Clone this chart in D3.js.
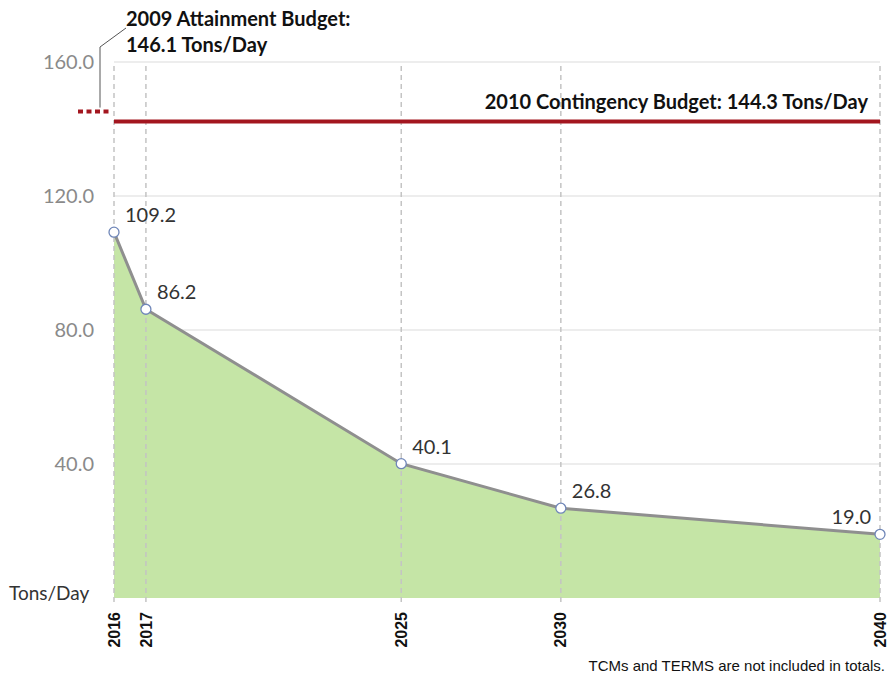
<!DOCTYPE html>
<html><head><meta charset="utf-8">
<script src="https://cdn.jsdelivr.net/npm/d3@7"></script>
<style>body{margin:0;background:#fff}svg{display:block}</style>
</head><body>
<svg id="c" width="891" height="681"></svg>
<script>
const years = [2016, 2017, 2025, 2030, 2040];
const values = [109.2, 86.2, 40.1, 26.8, 19.0];
const yTicks = [40, 80, 120, 160];
const attainmentBudget = 146.1;
const contingencyBudget = 144.3;
const attainmentLabel = ["2009 Attainment Budget:", "146.1 Tons/Day"];
const contingencyLabel = "2010 Contingency Budget: 144.3 Tons/Day";
const yUnit = "Tons/Day";
const footnote = "TCMs and TERMS are not included in totals.";

const svg = d3.select("#c");
const x = d3.scaleLinear().domain([2016, 2040]).range([114, 880]);
const y = d3.scaleLinear().domain([0, 160]).range([598, 62]);
const bold = "Lato, 'Open Sans', sans-serif";
const reg = "Lato, 'Open Sans', sans-serif";

// horizontal gridlines
svg.append("g").selectAll("line").data(yTicks).join("line")
  .attr("x1", x(2016)).attr("x2", x(2040))
  .attr("y1", d => y(d)).attr("y2", d => y(d))
  .attr("stroke", "#dcdcdc").attr("stroke-width", 1.2);

// y tick labels
svg.append("g").selectAll("text").data(yTicks).join("text")
  .attr("x", 94).attr("y", d => y(d)).attr("dy", "0.35em")
  .attr("text-anchor", "end").attr("fill", "#8a8a8a")
  .style("font", `20px ${reg}`)
  .text(d => d.toFixed(1));

// area
const area = d3.area().x((d, i) => x(years[i])).y0(y(0)).y1(d => y(d));
svg.append("path").datum(values).attr("d", area).attr("fill", "#c5e5a6");

// vertical dashed lines
svg.append("g").selectAll("line").data(years).join("line")
  .attr("x1", d => x(d)).attr("x2", d => x(d))
  .attr("y1", y(160) + 4).attr("y2", y(0) + 6)
  .attr("stroke", "#c4c4c4").attr("stroke-width", 1.5)
  .attr("stroke-dasharray", "5,4");

// line
const line = d3.line().x((d, i) => x(years[i])).y(d => y(d));
svg.append("path").datum(values).attr("d", line)
  .attr("fill", "none").attr("stroke", "#8f8f8f").attr("stroke-width", 3);

// markers
svg.append("g").selectAll("circle").data(values).join("circle")
  .attr("cx", (d, i) => x(years[i])).attr("cy", d => y(d)).attr("r", 5)
  .attr("fill", "#fff").attr("stroke", "#6f86b8").attr("stroke-width", 1.3);

// data labels
svg.append("g").selectAll("text").data(values).join("text")
  .attr("x", (d, i) => i === values.length - 1 ? x(years[i]) - 9 : x(years[i]) + 11)
  .attr("y", (d, i) => y(d) - 10)
  .attr("text-anchor", (d, i) => i === values.length - 1 ? "end" : "start")
  .attr("fill", "#333")
  .style("font", `20px ${reg}`)
  .text(d => d.toFixed(1));

// contingency line
svg.append("line").attr("x1", x(2016)).attr("x2", x(2040))
  .attr("y1", y(contingencyBudget) + 7).attr("y2", y(contingencyBudget) + 7)
  .attr("stroke", "#a3161f").attr("stroke-width", 4);
svg.append("text").attr("x", 868).attr("y", y(contingencyBudget) - 6)
  .attr("text-anchor", "end").attr("fill", "#111")
  .style("font", `bold 20px ${bold}`).text(contingencyLabel);

// attainment dotted marker
svg.append("line").attr("x1", 78).attr("x2", 110)
  .attr("y1", y(attainmentBudget) + 3).attr("y2", y(attainmentBudget) + 3)
  .attr("stroke", "#a3161f").attr("stroke-width", 4).attr("stroke-dasharray", "5,3.5");
svg.append("path").attr("d", `M100,${y(attainmentBudget) - 1} L100,47 L126,28`)
  .attr("fill", "none").attr("stroke", "#555").attr("stroke-width", 1);
svg.append("g").selectAll("text").data(attainmentLabel).join("text")
  .attr("x", 126).attr("y", (d, i) => 26 + i * 26)
  .attr("fill", "#111").style("font", `bold 20px ${bold}`).text(d => d);

// y unit
svg.append("text").attr("x", 9).attr("y", 600).attr("fill", "#333")
  .style("font", `19px ${reg}`).text(yUnit);

// x labels
svg.append("g").selectAll("text").data(years).join("text")
  .attr("transform", d => `translate(${x(d)},612) rotate(-90)`)
  .attr("text-anchor", "end").attr("dy", "0.35em")
  .attr("fill", "#111").style("font", "bold 16px 'Liberation Sans', Arial, sans-serif")
  .text(d => d);

// footnote
svg.append("text").attr("x", 885).attr("y", 671).attr("text-anchor", "end")
  .attr("fill", "#111").style("font", "15px 'Liberation Sans', Arial, sans-serif")
  .text(footnote);
</script>
</body></html>
